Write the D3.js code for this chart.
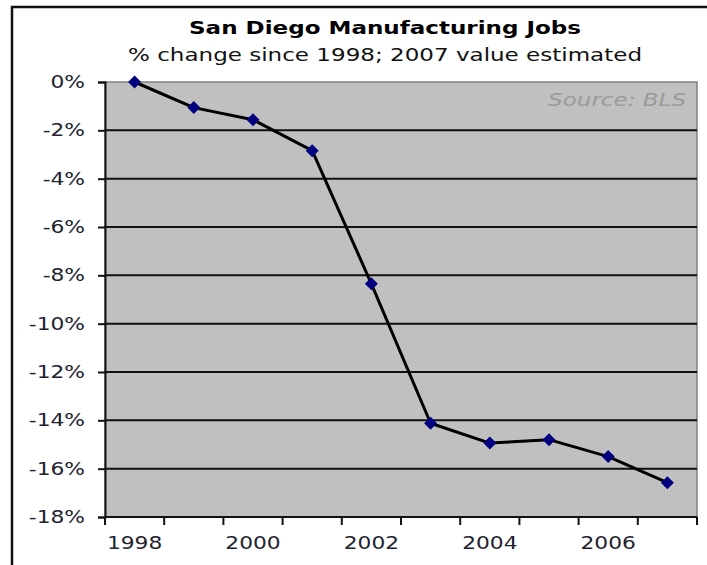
<!DOCTYPE html>
<html><head><meta charset="utf-8">
<script src="https://cdn.jsdelivr.net/npm/d3@7"></script>
<style>
html,body{margin:0;padding:0;background:#fff;}
svg{display:block;}
text{font-family:"DejaVu Sans",Verdana,sans-serif;}
</style></head>
<body>
<svg id="chart" width="707" height="565"></svg>
<script>
const years = [1998,1999,2000,2001,2002,2003,2004,2005,2006,2007];
const changePct = [0,-1.06,-1.56,-2.84,-8.35,-14.12,-14.94,-14.8,-15.5,-16.58];
const yTicks = [0,-2,-4,-6,-8,-10,-12,-14,-16,-18];
const xLabelYears = [1998,2000,2002,2004,2006];
const titleText = "San Diego Manufacturing Jobs";
const subtitleText = "% change since 1998; 2007 value estimated";
const sourceText = "Source: BLS";

const SX = 1.28; // horizontal stretch of the original picture's text
const svg = d3.select("#chart");
const L = 105, R = 697, T = 82, B = 517;

// outer frame
svg.append("rect").attr("x",12).attr("y",7).attr("width",720).attr("height",580)
  .attr("fill","#fff").attr("stroke","#111").attr("stroke-width",2.5);

const x = d3.scaleBand().domain(years).range([L,R]).padding(0);
const y = d3.scaleLinear().domain([0,-18]).range([T,B]);

// plot background
svg.append("rect").attr("x",L).attr("y",T).attr("width",R-L).attr("height",B-T)
  .attr("fill","#c0c0c0").attr("stroke","#808080").attr("stroke-width",1.5);

// gridlines
svg.append("g").selectAll("line").data(yTicks.filter(d=>d!==0 && d!==-18)).join("line")
  .attr("x1",L).attr("x2",R).attr("y1",d=>y(d)).attr("y2",d=>y(d))
  .attr("stroke","#111").attr("stroke-width",2);

// y axis
const yAxis = svg.append("g").attr("transform",`translate(${L},0)`)
  .call(d3.axisLeft(y).tickValues(yTicks).tickFormat(d=>`${d}%`).tickSize(7).tickPadding(7));
yAxis.select(".domain").attr("stroke","#111").attr("stroke-width",2);
yAxis.selectAll(".tick line").attr("stroke","#111").attr("stroke-width",2);
yAxis.selectAll(".tick text").attr("font-size",17).attr("fill","#22222e")
  .attr("font-family","DejaVu Sans").attr("x",0)
  .attr("transform",`translate(-20,0) scale(${SX},1)`);

// x axis
const xAxis = svg.append("g").attr("transform",`translate(0,${B})`)
  .call(d3.axisBottom(x).tickValues(xLabelYears).tickSize(0).tickPadding(20));
xAxis.select(".domain").remove();
xAxis.selectAll(".tick text").attr("font-size",17).attr("fill","#22222e")
  .attr("font-family","DejaVu Sans").attr("transform",`scale(${SX},1)`);
const boundaries = years.map(d=>x(d)).concat([R]);
svg.append("g").selectAll("line").data(boundaries).join("line")
  .attr("x1",d=>d).attr("x2",d=>d).attr("y1",B).attr("y2",B+8)
  .attr("stroke","#111").attr("stroke-width",2);
svg.append("line").attr("x1",L-1).attr("x2",R).attr("y1",B).attr("y2",B)
  .attr("stroke","#111").attr("stroke-width",2);

// line
const cx = d=>x(d)+x.bandwidth()/2;
const pts = years.map((yr,i)=>[cx(yr), y(changePct[i])]);
svg.append("path").attr("d",d3.line()(pts)).attr("fill","none")
  .attr("stroke","#000").attr("stroke-width",3).attr("stroke-linejoin","round");

// markers
svg.append("g").selectAll("path").data(pts).join("path")
  .attr("transform",d=>`translate(${d[0]},${d[1]}) rotate(45)`)
  .attr("d","M-4.6,-4.6H4.6V4.6H-4.6Z").attr("fill","#000080");

function stretchedText(ax, ay, anchor, size, str, opts={}){
  const g = svg.append("g").attr("transform",`translate(${ax},${ay}) scale(${SX},1)`);
  const t = g.append("text").attr("text-anchor",anchor).attr("font-size",size).text(str);
  Object.entries(opts).forEach(([k,v])=>t.attr(k,v));
  return t;
}
// source
stretchedText(R-11, T+24, "end", 18, sourceText, {"font-style":"italic","fill":"#9a9a9a"});
// titles
stretchedText(385, 34, "middle", 18, titleText, {"font-weight":"bold","fill":"#000"});
stretchedText(385, 61, "middle", 18, subtitleText, {"fill":"#111"});
</script>
</body></html>
